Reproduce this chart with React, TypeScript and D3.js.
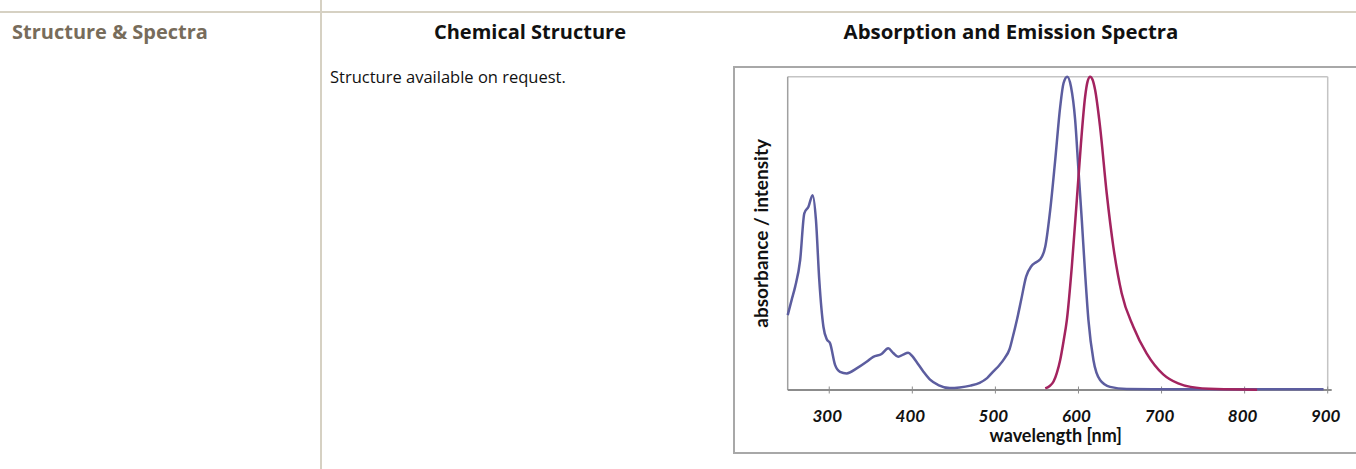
import { useMemo } from 'react';
import * as d3 from 'd3';

// Absorption and emission spectra.
// Wavelengths in nm, intensities normalised to the highest peak.

const ABS_NM = [
  250, 255, 259, 265, 270, 275, 280, 284, 288, 293, 297, 301, 307, 313, 321, 333, 345, 353, 363,
  371, 377, 383, 389, 395, 400, 405, 413, 421, 432, 445, 457, 470, 481, 490, 497, 505, 511, 517,
  521, 526, 531, 537, 543, 549, 554, 560, 566, 572, 578, 582, 586.5, 591, 596, 600, 604, 608, 612,
  618, 626, 638, 658, 700, 800, 895,
];
const ABS_VALUES = [
  0.239, 0.29, 0.33, 0.415, 0.564, 0.585, 0.622, 0.543, 0.351, 0.202, 0.162, 0.149, 0.08, 0.058,
  0.053, 0.069, 0.09, 0.106, 0.115, 0.133, 0.118, 0.106, 0.113, 0.119, 0.108, 0.09, 0.06, 0.034,
  0.015, 0.006, 0.008, 0.014, 0.023, 0.038, 0.058, 0.08, 0.101, 0.13, 0.17, 0.225, 0.287, 0.362,
  0.394, 0.408, 0.417, 0.457, 0.575, 0.734, 0.904, 0.979, 1.0, 0.968, 0.862, 0.702, 0.543, 0.372,
  0.223, 0.096, 0.032, 0.01, 0.003, 0.002, 0.002, 0.002,
];

const EM_NM = [
  560, 565, 570, 574, 578, 582, 586, 592, 598, 603, 608, 611, 614, 617, 620, 626, 634, 642, 652,
  666, 682, 702, 720, 735, 766, 815,
];
const EM_VALUES = [
  0.005, 0.012, 0.027, 0.055, 0.096, 0.155, 0.223, 0.394, 0.606, 0.787, 0.936, 0.985, 1.0, 0.99,
  0.958, 0.84, 0.628, 0.457, 0.309, 0.202, 0.117, 0.05, 0.021, 0.01, 0.003, 0.001,
];

const X_TICKS = [300, 400, 500, 600, 700, 800, 900];
const X_DOMAIN = [250, 900];

const WIDTH = 1356;
const HEIGHT = 469;
const PLOT = { left: 787.7, right: 1327.7, top: 76.7, bottom: 390 } as const;

const ABS_COLOR = '#5c5d9f';
const EM_COLOR = '#a3235f';
const RULE_COLOR = '#d6d1c3';
const HEAD_FONT = 'Open Sans, sans-serif';
const AXIS_FONT = 'Lato, sans-serif';

type Pt = { nm: number; v: number };

export default function App() {
  const x = useMemo(() => d3.scaleLinear().domain(X_DOMAIN).range([PLOT.left, PLOT.right]), []);
  const y = useMemo(() => d3.scaleLinear().domain([0, 1]).range([PLOT.bottom, PLOT.top]), []);

  const line = d3
    .line<Pt>()
    .x((p) => x(p.nm))
    .y((p) => y(p.v))
    .curve(d3.curveMonotoneX);

  const absPts = ABS_NM.map((nm, i) => ({ nm, v: ABS_VALUES[i] }));
  const emPts = EM_NM.map((nm, i) => ({ nm, v: EM_VALUES[i] }));
  const midX = (PLOT.left + PLOT.right) / 2;
  const midY = (PLOT.top + PLOT.bottom) / 2;

  return (
    <svg
      width={WIDTH}
      height={HEIGHT}
      style={{ position: 'absolute', left: 0, top: 0, display: 'block', background: '#fff' }}
    >
      {/* page rules */}
      <line x1={0} x2={WIDTH} y1={12} y2={12} stroke={RULE_COLOR} strokeWidth={2} />
      <line x1={321} x2={321} y1={0} y2={HEIGHT} stroke={RULE_COLOR} strokeWidth={2} />

      <text x={12} y={39} fontFamily={HEAD_FONT} fontWeight={700} fontSize={20} fill="#776c5b">
        Structure &amp; Spectra
      </text>
      <text x={530} y={39} textAnchor="middle" fontFamily={HEAD_FONT} fontWeight={700} fontSize={20} fill="#111">
        Chemical Structure
      </text>
      <text x={1011} y={39} textAnchor="middle" fontFamily={HEAD_FONT} fontWeight={700} fontSize={20.4} fill="#111">
        Absorption and Emission Spectra
      </text>
      <text x={330} y={83} fontFamily={HEAD_FONT} fontSize={16.5} fill="#111">
        Structure available on request.
      </text>

      {/* chart frame */}
      <rect x={734} y={67} width={WIDTH} height={386} fill="none" stroke="#a8a8a8" strokeWidth={2} />

      {/* plot area */}
      <line x1={PLOT.left} x2={PLOT.right} y1={PLOT.top} y2={PLOT.top} stroke="#c4c4c4" strokeWidth={1.5} />
      <line x1={PLOT.right} x2={PLOT.right} y1={PLOT.top} y2={PLOT.bottom} stroke="#c4c4c4" strokeWidth={1.5} />
      <line x1={PLOT.left} x2={PLOT.left} y1={PLOT.top} y2={PLOT.bottom} stroke="#a0a0a0" strokeWidth={1.5} />
      <line x1={PLOT.left} x2={PLOT.right + 4} y1={PLOT.bottom} y2={PLOT.bottom} stroke="#8c8c8c" strokeWidth={2} />

      {X_TICKS.map((t) => (
        <g key={t} transform={`translate(${x(t)},${PLOT.bottom})`}>
          <line y1={-3.5} y2={3.5} stroke="#8c8c8c" strokeWidth={1} />
          <text
            x={-2}
            y={31.5}
            textAnchor="middle"
            fontFamily={AXIS_FONT}
            fontWeight={700}
            fontStyle="italic"
            fontSize={17}
            fill="#111"
          >
            {t}
          </text>
        </g>
      ))}

      <path d={line(absPts) ?? ''} fill="none" stroke={ABS_COLOR} strokeWidth={2.5} strokeLinejoin="round" />
      <path d={line(emPts) ?? ''} fill="none" stroke={EM_COLOR} strokeWidth={2.5} strokeLinejoin="round" />

      <text x={midX - 2} y={442} textAnchor="middle" fontFamily={AXIS_FONT} fontWeight={700} fontSize={18} fill="#111">
        wavelength [nm]
      </text>
      <text
        transform={`translate(768,${midY}) rotate(-90)`}
        textAnchor="middle"
        fontFamily={AXIS_FONT}
        fontWeight={700}
        fontSize={19}
        fill="#111"
      >
        absorbance / intensity
      </text>
    </svg>
  );
}
